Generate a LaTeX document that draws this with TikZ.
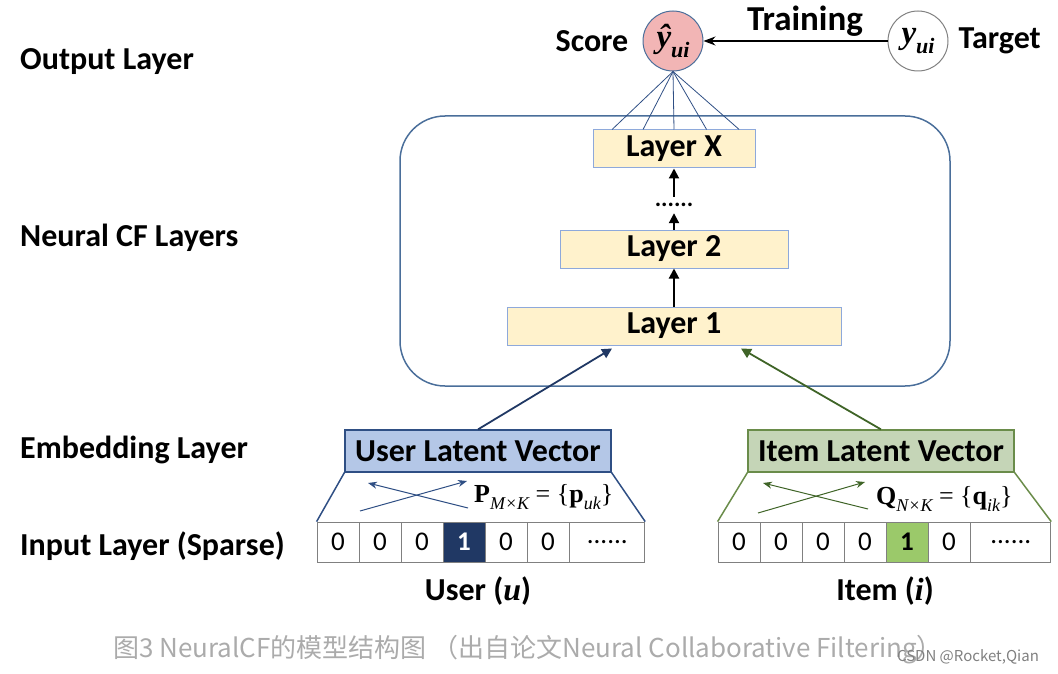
\documentclass[tikz,border=0pt]{standalone}
\usepackage{fontspec}
\setmainfont{Carlito}
\newfontfamily\timesf{Liberation Serif}
\newfontfamily\cjkf{Noto Sans CJK SC}
\usetikzlibrary{arrows.meta,calc,positioning}
\definecolor{navy}{HTML}{203864}
\definecolor{steel}{HTML}{4A6E9A}
\definecolor{layerfill}{HTML}{FFF2CC}
\definecolor{layerline}{HTML}{8EA9DB}
\definecolor{userfill}{HTML}{B4C7E7}
\definecolor{userline}{HTML}{2F4F84}
\definecolor{itemfill}{HTML}{C5D5B7}
\definecolor{itemline}{HTML}{6A8C4A}
\definecolor{itemcell}{HTML}{9BC96A}
\definecolor{darkgreen}{HTML}{3F6427}
\definecolor{scorefill}{HTML}{F2B5B5}
\definecolor{capgray}{HTML}{ABABAB}
\newcommand\subtxt[2][18]{\raisebox{-0.3em}{\fontsize{#1}{#1}\selectfont #2}}
\tikzset{
  bigfont/.style={font=\fontsize{32}{35}\selectfont\bfseries},
  sidelabel/.style={bigfont,anchor=west,inner sep=0},
  layerbox/.style={draw=layerline,fill=layerfill,line width=1pt,minimum height=38,inner sep=0,bigfont},
  cell/.style={draw=gray,line width=0.8pt,minimum height=40,minimum width=42,inner sep=0,font=\fontsize{27}{28}\selectfont},
  vecbox/.style={minimum height=42,minimum width=266,inner sep=0,line width=1.2pt,bigfont},
  upstep/.style={-{Triangle[length=10pt,width=10pt]},line width=2pt},
  crossarrow/.style={-{Stealth[length=9pt,width=7pt]},line width=1pt},
  mathlbl/.style={font=\timesf\fontsize{26}{28}\selectfont,anchor=west,inner sep=0},
  ball/.style={circle,minimum size=60,inner sep=0,line width=1pt,font=\timesf\fontsize{33}{33}\selectfont\bfseries\itshape},
}
\begin{document}
\begin{tikzpicture}[x=1pt,y=-1pt]
\useasboundingbox (0,0) rectangle (1058,674);

\node[sidelabel] (lout) at (20,62) {Output Layer};
\node[sidelabel] (lncf) at (20,238) {Neural CF Layers};
\node[sidelabel] (lemb) at (20,450) {Embedding Layer};
\node[sidelabel] (linp) at (20,546) {Input Layer (Sparse)};

\node[ball,draw=steel,fill=scorefill] (score) at (673,41) {ŷ\subtxt[22]{ui}};
\node[ball,draw=gray] (target) at (918,41) {y\subtxt[22]{ui}};
\node[bigfont,inner sep=0,left=14pt of score] (scorelbl) {Score};
\node[bigfont,inner sep=0,right=10pt of target] (targetlbl) {Target};
\node[font=\fontsize{35}{36}\selectfont\bfseries,inner sep=0] (train) at (805,21) {Training};
\draw[-{Stealth[length=12pt,width=9pt]},line width=1.2pt] (target) -- (score);

\draw[steel,line width=1.5pt,rounded corners=45] (400,116) rectangle (950,386);
\node[layerbox,minimum width=162] (lx) at (674,149) {Layer X};
\node[layerbox,minimum width=228] (l2) at (674,249) {Layer 2};
\node[layerbox,minimum width=334] (l1) at (674,326) {Layer 1};
\node[font=\fontsize{24}{24}\selectfont\bfseries,anchor=base,text height=4,text depth=0,inner xsep=0,inner ysep=6] (dots) at (674,207) {......};
\draw[upstep] (l1.north) -- (l2.south);
\draw[upstep] (l2.north) -- (dots.south);
\draw[upstep] (dots.north) -- (lx.south);
\foreach \f in {0.12,0.31,0.5,0.7,0.9}
  \draw[userline,line width=0.8pt] (score.south) -- ($(lx.north west)!\f!(lx.north east)$);

\node[vecbox,draw=userline,fill=userfill] (uvec) at (478,451) {User Latent Vector};
\node[vecbox,draw=itemline,fill=itemfill] (ivec) at (881,451) {Item Latent Vector};
\draw[upstep,navy,line width=1.8pt] (uvec.north) -- ($(l1.south west)!0.315!(l1.south east)+(0,3)$);
\draw[upstep,darkgreen,line width=1.8pt] (ivec.north) -- ($(l1.south west)!0.70!(l1.south east)+(0,3)$);

\foreach \v/\c/\t [count=\k] in {0/white/black,0/white/black,0/white/black,\textbf{1}/navy/white,0/white/black,0/white/black}
  \node[cell,fill=\c,text=\t] (u\k) at ({338+42*(\k-1)},542) {\v};
\node[cell,minimum width=75,anchor=west] (u7) at (u6.east) {......};
\foreach \v/\c [count=\k] in {0/white,0/white,0/white,0/white,\textbf{1}/itemcell,0/white}
  \node[cell,fill=\c] (i\k) at ({739+42*(\k-1)},542) {\v};
\node[cell,minimum width=80,anchor=west] (i7) at (i6.east) {......};

\draw[userline,line width=1.5pt] (uvec.south west) -- (u1.north west);
\draw[userline,line width=1.5pt] (uvec.south east) -- (u7.north east);
\draw[itemline,line width=1.5pt] (ivec.south west) -- (i1.north west);
\draw[itemline,line width=1.5pt] (ivec.south east) -- (i7.north east);

\coordinate (ua1) at (360,511); \coordinate (ua2) at (467,481);
\coordinate (ub1) at (468,508); \coordinate (ub2) at (368,483);
\coordinate (ia1) at (758,513); \coordinate (ia2) at (865,482);
\coordinate (ib1) at (868,509); \coordinate (ib2) at (763,483);
\draw[crossarrow,userline] (ua1) -- (ua2);
\draw[crossarrow,userline] (ub1) -- (ub2);
\draw[crossarrow,darkgreen] (ia1) -- (ia2);
\draw[crossarrow,darkgreen] (ib1) -- (ib2);

\node[mathlbl] (pu) at (474,497) {\textbf{P}\subtxt{\itshape M×K} = \{\textbf{p}\subtxt{\itshape uk}\}};
\node[mathlbl] (qi) at (876,499) {\textbf{Q}\subtxt{\itshape N×K} = \{\textbf{q}\subtxt{\itshape ik}\}};

\node[bigfont,inner sep=0] (ulbl) at (478,591) {User ({\timesf\itshape u})};
\node[bigfont,inner sep=0] (ilbl) at (885,591) {Item ({\timesf\itshape i})};

\node[font=\cjkf\fontsize{26}{28}\selectfont,text=capgray,inner sep=0] (cap) at (528,650) {图3 NeuralCF的模型结构图 （出自论文Neural Collaborative Filtering）};
\node[font=\cjkf\fontsize{15}{15}\selectfont,text=gray,inner sep=1] (wm) at (968,657) {CSDN @Rocket,Qian};
\end{tikzpicture}
\end{document}
